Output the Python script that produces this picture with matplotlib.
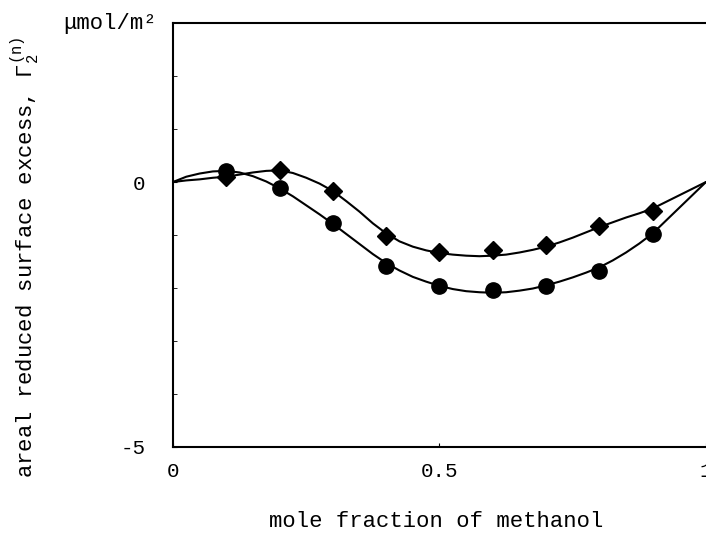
import matplotlib
matplotlib.use("Agg")
import matplotlib.pyplot as plt

# measured data
x_points = [0.1, 0.2, 0.3, 0.4, 0.5, 0.6, 0.7, 0.8, 0.9]
circle_values = [0.20, -0.11, -0.77, -1.58, -1.96, -2.04, -1.96, -1.68, -0.98]
diamond_values = [0.09, 0.23, -0.17, -1.02, -1.32, -1.28, -1.19, -0.83, -0.55]

# fitted curves
curve_x = [0.0, 0.025, 0.05, 0.075, 0.1, 0.125, 0.15, 0.175, 0.2, 0.225, 0.25, 0.275, 0.3,
           0.325, 0.35, 0.375, 0.4, 0.425, 0.45, 0.475, 0.5, 0.525, 0.55, 0.575, 0.6,
           0.625, 0.65, 0.675, 0.7, 0.725, 0.75, 0.775, 0.8, 0.825, 0.85, 0.875, 0.9, 1.0]
circle_curve = [0.0, 0.10, 0.16, 0.20, 0.21, 0.18, 0.11, 0.01, -0.12, -0.27, -0.44, -0.61, -0.79,
                -0.98, -1.17, -1.36, -1.53, -1.67, -1.79, -1.88, -1.96, -2.02, -2.06, -2.08, -2.09,
                -2.08, -2.05, -2.01, -1.95, -1.88, -1.80, -1.71, -1.61, -1.48, -1.33, -1.16, -0.97, 0.0]
diamond_curve = [0.0, 0.03, 0.05, 0.08, 0.10, 0.14, 0.18, 0.21, 0.22, 0.17, 0.08, -0.03, -0.17,
                 -0.36, -0.56, -0.78, -0.97, -1.12, -1.22, -1.29, -1.34, -1.37, -1.39, -1.40, -1.39,
                 -1.37, -1.33, -1.28, -1.22, -1.14, -1.05, -0.95, -0.85, -0.76, -0.67, -0.59, -0.50, 0.0]

y_ticks = [-5, 0]
y_ticklabels = ["-5", "0"]
x_ticks = [0, 0.5, 1]
x_ticklabels = ["0", "0.5", "1"]

plt.rcParams['font.family'] = ['Liberation Mono', 'DejaVu Sans']
plt.rcParams['mathtext.fontset'] = 'custom'
plt.rcParams['mathtext.rm'] = 'Liberation Mono'
plt.rcParams['mathtext.it'] = 'Liberation Mono'

fig = plt.figure(figsize=(7.06, 5.39), dpi=100)
ax = fig.add_axes([0.245, 0.1707, 0.755, 0.7866])

ax.plot(curve_x, circle_curve, color='black', lw=1.5, solid_capstyle='round')
ax.plot(curve_x, diamond_curve, color='black', lw=1.5, solid_capstyle='round')
ax.plot(x_points, circle_values, 'o', color='black', ms=11, linestyle='none')
ax.plot(x_points, diamond_values, 'D', color='black', ms=9, linestyle='none')

ax.set_xlim(0, 1)
ax.set_ylim(-5, 3)
ax.spines['right'].set_visible(False)
for s in ['left', 'bottom', 'top']:
    ax.spines[s].set_linewidth(1.5)

ax.set_yticks(y_ticks)
ax.set_yticklabels(y_ticklabels)
ax.set_xticks(x_ticks)
ax.set_xticklabels(x_ticklabels)
ax.set_yticks(list(range(-4, 3)), minor=True)
ax.tick_params(axis='y', direction='in', length=3, pad=20, labelsize=15)
ax.tick_params(axis='y', which='minor', direction='in', length=3)
ax.tick_params(axis='x', direction='in', length=3, pad=11, labelsize=15)

ax.text(-0.03, 3, "\u03bcmol/m\u00b2", transform=ax.transData, ha='right', va='center', fontsize=16)

ax.set_xlabel("mole fraction of methanol", fontsize=16)
ax.xaxis.set_label_coords(0.493, -0.150)
fig.text(25 / 706, 1 - 257 / 539, r"areal reduced surface excess, $\Gamma_2^{(\mathrm{n})}$",
         rotation=90, ha='center', va='center', fontsize=16)

fig.savefig("out.png", dpi=100)
